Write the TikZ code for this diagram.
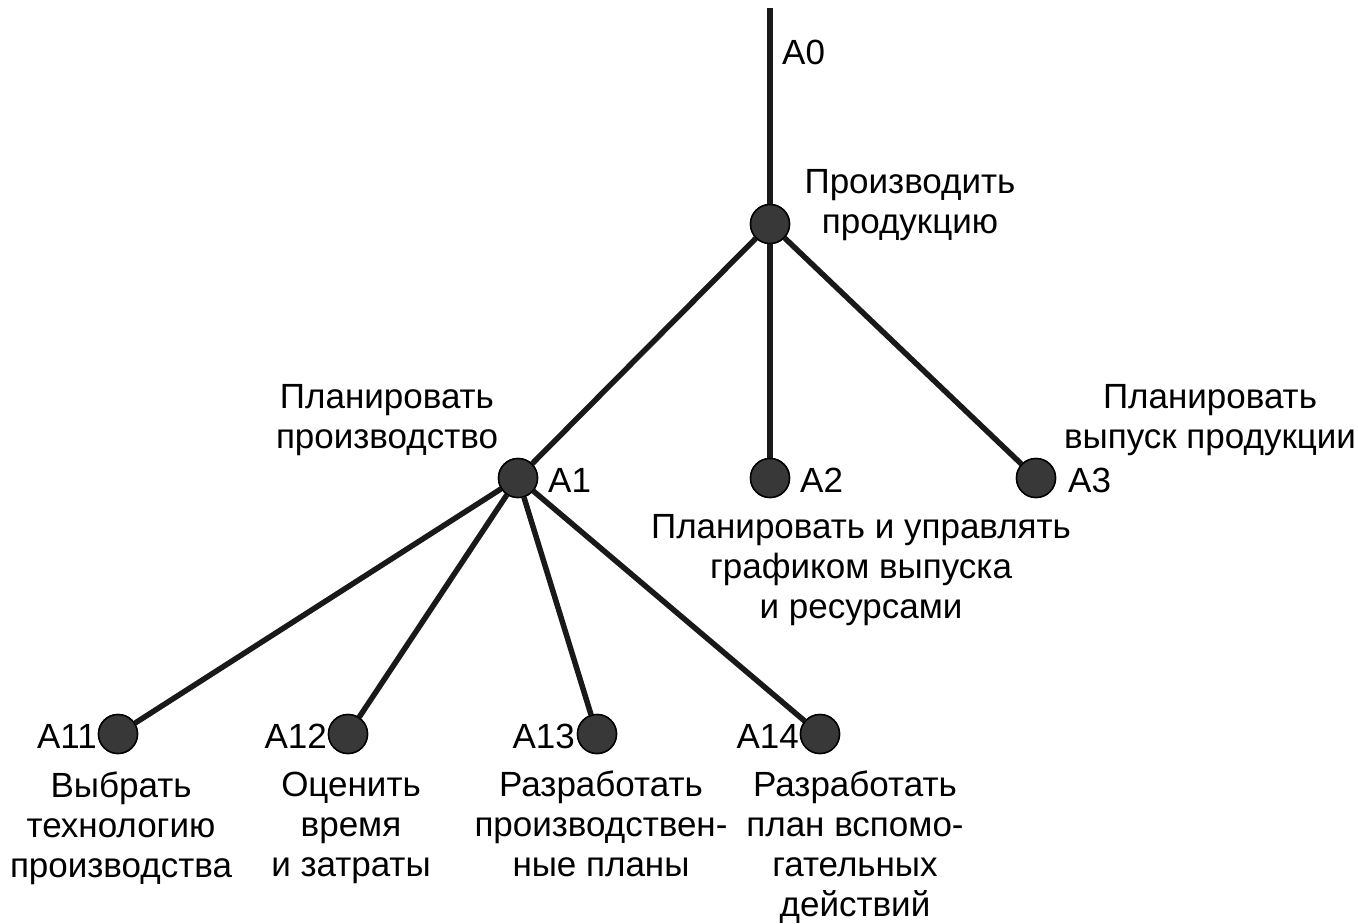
\documentclass[tikz,border=0pt]{standalone}
\usepackage{fontspec}
\setmainfont{Liberation Sans}
\begin{document}
\begin{tikzpicture}[x=1pt,y=-1pt,
  dot/.style={circle,draw=black,line width=1.5pt,fill=black!78,minimum size=39pt,inner sep=0pt},
  edge/.style={draw=black!90,line width=5.5pt},
  lbl/.style={font=\fontsize{35}{40}\selectfont,inner sep=0pt,align=center},
  tag/.style={font=\fontsize{35}{40}\selectfont,inner sep=0pt}]
\useasboundingbox (0,0) rectangle (1358,924);
\coordinate (top) at (770,8);
\node[dot] (a0) at (770,224) {};
\node[dot] (a1) at (518,478) {};
\node[dot] (a2) at (770,478) {};
\node[dot] (a3) at (1036,478) {};
\node[dot] (a11) at (118,734) {};
\node[dot] (a12) at (348,734) {};
\node[dot] (a13) at (597,734) {};
\node[dot] (a14) at (820,734) {};
\draw[edge] (top) -- (a0);
\draw[edge] (a0) -- (a1);
\draw[edge] (a0) -- (a2);
\draw[edge] (a0) -- (a3);
\draw[edge] (a1) -- (a11);
\draw[edge] (a1) -- (a12);
\draw[edge] (a1) -- (a13);
\draw[edge] (a1) -- (a14);
\node[dot] at (a0) {};
\node[dot] at (a1) {};
\node[dot] at (a2) {};
\node[dot] at (a3) {};
\node[dot] at (a11) {};
\node[dot] at (a12) {};
\node[dot] at (a13) {};
\node[dot] at (a14) {};
\node[tag,anchor=west] (t0) at (782,52) {A0};
\node[tag,anchor=west] (t1) at (548,480) {A1};
\node[tag,anchor=west] (t2) at (800,480) {A2};
\node[tag,anchor=west] (t3) at (1068,480) {A3};
\node[tag,anchor=east] (t11) at (97,736) {A11};
\node[tag,anchor=east] (t12) at (327,736) {A12};
\node[tag,anchor=east] (t13) at (575,736) {A13};
\node[tag,anchor=east] (t14) at (799,736) {A14};
\node[lbl] (l0) at (910,205) {Производить\\продукцию};
\node[lbl] (l1) at (387,420) {Планировать\\производство};
\node[lbl] (l3) at (1210,420) {Планировать\\выпуск продукции};
\node[lbl] (l2) at (861,570) {Планировать и управлять\\графиком выпуска\\и ресурсами};
\node[lbl] (l11) at (121,828) {Выбрать\\технологию\\производства};
\node[lbl] (l12) at (351,828) {Оценить\\время\\и затраты};
\node[lbl] (l13) at (601,824) {Разработать\\производствен-\\ные планы};
\node[lbl] (l14) at (855,847) {Разработать\\план вспомо-\\гательных\\действий};
\end{tikzpicture}
\end{document}
